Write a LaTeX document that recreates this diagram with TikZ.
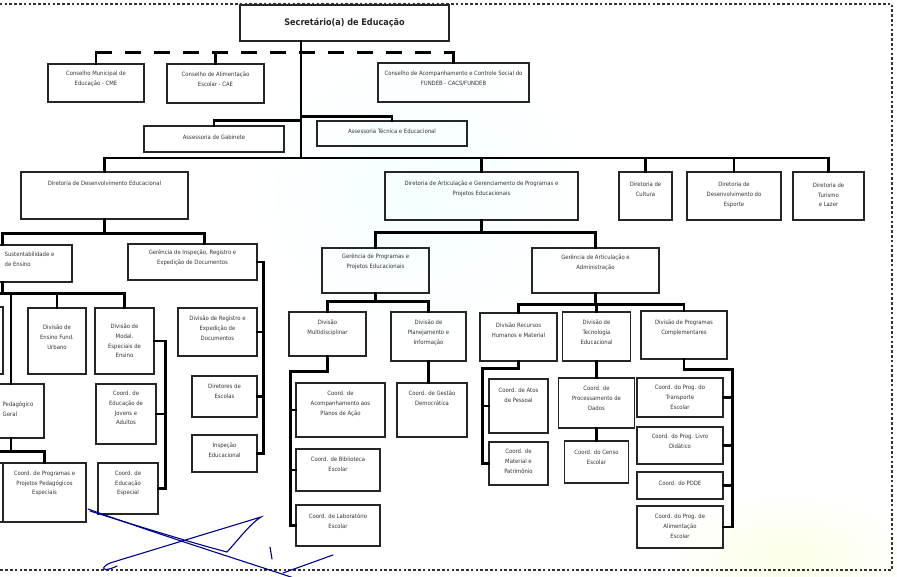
\documentclass[tikz,border=0pt]{standalone}
\usepackage{fontspec}
\setmainfont{DejaVu Sans Condensed}
\usepackage{tikz}
\usetikzlibrary{calc}

\begin{document}
\begin{tikzpicture}[x=1pt,y=-1pt,
box/.style 2 args={draw=black!85,line width=1.1pt,rectangle,minimum width=#1pt,minimum height=#2pt,inner sep=0pt},
txt/.style={font=\fontsize{5.9}{9.8}\selectfont,align=center,inner sep=0pt,text=black!80,yshift=4pt},
cut/.style={txt,align=left},
title/.style={font=\fontsize{9}{11}\selectfont\bfseries,inner sep=0pt,text=black!85},
link/.style={line width=2.6pt,line cap=rect},
dashlink/.style={line width=2.6pt,dash pattern=on 16pt off 13pt},
border/.style={line width=2.6pt,dash pattern=on 2.6pt off 2.2pt,black!80},
sign/.style={draw=blue!55!black,line width=1.1pt,line cap=round}]
\useasboundingbox (0,0) rectangle (897,577);
\clip (0,0) rectangle (897,577);

% fundo
\shade[inner color=cyan!4,outer color=white] (420,190) ellipse (170 and 150);
\shade[inner color=green!14!yellow!10,outer color=white] (790,560) ellipse (130 and 70);
\draw[border] (-5,4) -- (892,4) -- (892,570) -- (-5,570);

% secretaria, conselhos e assessorias
\node[box={209}{36},label={[title]center:{Secretário(a) de Educação}}] (sec) at (344.5,23) {};
\node[box={96}{38},label={[txt]center:{Conselho Municipal de\\Educação - CME}}] (cme) at (96,83) {};
\node[box={97}{39},label={[txt]center:{Conselho de Alimentação\\Escolar - CAE}}] (cae) at (215.5,83.5) {};
\node[box={151}{39},label={[txt]center:{Conselho de Acompanhamento e Controle Social do\\FUNDEB - CACS/FUNDEB}}] (cacs) at (453.5,82.5) {};
\node[box={140}{26},label={[txt,yshift=-2pt]center:{Assessoria de Gabinete}}] (ag) at (214,139) {};
\node[box={150}{25},label={[txt,yshift=-2pt]center:{Assessoria Técnica e Educacional}}] (ate) at (392,133.5) {};

% diretorias
\node[box={167}{47},label={[txt,yshift=8pt]center:{Diretoria de Desenvolvimento Educacional}}] (dde) at (104.5,195.5) {};
\node[box={193}{48},label={[txt,yshift=3pt]center:{Diretoria de Articulação e Gerenciamento de Programas e\\Projetos Educacionais}}] (dda) at (481.5,196) {};
\node[box={53}{48},label={[txt,yshift=3pt]center:{Diretoria de\\Cultura}}] (dcu) at (645.5,196) {};
\node[box={94}{48},label={[txt,yshift=-3pt]center:{Diretoria de\\Desenvolvimento do\\Esporte}}] (des) at (734,196) {};
\node[box={71}{48},label={[txt,yshift=-3pt]center:{Diretoria de\\Turismo\\e Lazer}}] (dtl) at (828.5,196) {};

% desenvolvimento educacional
\node[box={139}{37},label={[cut,xshift=27pt]center:{Sustentabilidade e\\de Ensino}}] (gse) at (2.5,263.5) {};
\node[box={129}{36},label={[txt]center:{Gerência de Inspeção, Registro e\\Expedição de Documentos}}] (gir) at (192.5,262) {};
\node[box={58}{67}] (dx1) at (-26,340.5) {};
\node[box={58}{66},label={[txt]center:{Divisão de\\Ensino Fund.\\Urbano}}] (def) at (57,341) {};
\node[box={59}{66},label={[txt,yshift=-4pt]center:{Divisão de\\Modal.\\Especiais de\\Ensino}}] (dmod) at (124.5,341) {};
\node[box={66}{54},label={[cut,xshift=7pt,yshift=-2pt]center:{Pedagógico\\Geral}}] (cpg) at (11,411) {};
\node[box={60}{60},label={[txt,yshift=2pt]center:{Coord. de\\Educação de\\Jovens e\\Adultos}}] (cja) at (126,414) {};
\node[box={53}{59}] (dx2) at (-23.5,492.5) {};
\node[box={83}{59},label={[txt,yshift=5pt]center:{Coord. de Programas e\\Projetos Pedagógicos\\Especiais}}] (cppe) at (44.5,492.5) {};
\node[box={60}{51},label={[txt,yshift=1pt]center:{Coord. de\\Educação\\Especial}}] (cee) at (128,488.5) {};
\node[box={79}{48},label={[txt]center:{Divisão de Registro e\\Expedição de\\Documentos}}] (dre) at (217.5,332) {};
\node[box={65}{41},label={[txt,yshift=1pt]center:{Diretores de\\Escolas}}] (dir) at (224.5,396.5) {};
\node[box={65}{37},label={[txt,yshift=-1pt]center:{Inspeção\\Educacional}}] (iedu) at (224.5,453.5) {};

% articulacao e gerenciamento
\node[box={107}{45},label={[txt,yshift=5pt]center:{Gerência de Programas e\\Projetos Educacionais}}] (gpp) at (375.5,270.5) {};
\node[box={127}{45},label={[txt,yshift=4pt]center:{Gerência de Articulação e\\Administração}}] (gaa) at (595.5,270.5) {};
\node[box={77}{44},label={[txt,yshift=2pt]center:{Divisão\\Multidisciplinar}}] (dmu) at (327.5,334) {};
\node[box={75}{49},label={[txt]center:{Divisão de\\Planejamento e\\Informação}}] (dpi) at (428.5,336.5) {};
\node[box={89}{54},label={[txt,yshift=2pt]center:{Coord. de\\Acompanhamento aos\\Planos de Ação}}] (cap) at (340.5,410) {};
\node[box={84}{42},label={[txt,yshift=2pt]center:{Coord. de Biblioteca\\Escolar}}] (cbe) at (338,470) {};
\node[box={84}{41},label={[txt]center:{Coord. de Laboratório\\Escolar}}] (cle) at (338,525.5) {};
\node[box={70}{54},label={[txt,yshift=8pt]center:{Coord. de Gestão\\Democrática}}] (cgd) at (432,410) {};
\node[box={77}{48},label={[txt,yshift=3pt]center:{Divisão Recursos\\Humanos e Material}}] (drh) at (518.5,337) {};
\node[box={68}{49},label={[txt]center:{Divisão de\\Tecnologia\\Educacional}}] (dte) at (596.5,336.5) {};
\node[box={86}{48},label={[txt,yshift=3pt]center:{Divisão de Programas\\Complementares}}] (dpc) at (684,335) {};
\node[box={59}{54},label={[txt,yshift=7pt]center:{Coord. de Atos\\de Pessoal}}] (cat) at (518.5,406) {};
\node[box={59}{43},label={[txt,yshift=-2pt]center:{Coord. de\\Material e\\Patrimônio}}] (cmp) at (518.5,463.5) {};
\node[box={76}{50},label={[txt,yshift=1pt]center:{Coord. de\\Processamento de\\Dados}}] (cpd) at (596.5,403) {};
\node[box={64}{42},label={[txt,yshift=1pt]center:{Coord. do Censo\\Escolar}}] (cce) at (596.5,462) {};
\node[box={86}{39},label={[txt,yshift=-4pt]center:{Coord. do Prog. do\\Transporte\\Escolar}}] (cpt) at (680,397.5) {};
\node[box={86}{37},label={[txt]center:{Coord. do Prog. Livro\\Didático}}] (cpl) at (680,445.5) {};
\node[box={86}{27},label={[txt,yshift=-2pt]center:{Coord. do PDDE}}] (cpdd) at (680,485.5) {};
\node[box={86}{42},label={[txt,yshift=-3pt]center:{Coord. do Prog. de\\Alimentação\\Escolar}}] (cpa) at (680,527) {};

% ligacoes
\coordinate (trunk) at (301,158);
\draw[link] (sec.south -| trunk) -- (trunk);
\draw[link] (cme.north) -- ++(0,-11) coordinate (d1);
\draw[link] (cae.north) -- ++(0,-11);
\draw[link] (cacs.north) -- ++(0,-10);
\draw[dashlink] (d1) -- (d1 -| cacs.north);
\draw[link] (ag.north) |- (ate.north -| trunk);
\draw[link] (ate.north) -- ++(0,-4) coordinate (ta) -- (ta -| trunk);
\draw[link] (dde.north) |- (trunk) -| (dtl.north);
\foreach \n in {dda,dcu,des}
  \draw[link] (\n.north) -- (\n.north |- trunk);

\draw[link] (dde.south) -- ++(0,14) coordinate (b2);
\draw[link] (gse.north) |- (b2) -| ([xshift=12pt]gir.north);
\draw[link] (gse.south) -- ++(0,11) coordinate (b3);
\draw[link] (dx1.north) |- (b3) -| (dmod.north);
\draw[link] (def.north) -- (def.north |- b3);
\draw[link] (cpg.north) -- (cpg.north |- b3);
\draw[link] (cpg.south) -- ++(0,13) coordinate (b4);
\draw[link] (dx2.north) |- (b4) -| (cppe.north);
\draw[link] (dmod.east) -- ++(11,0) coordinate (r1) |- (cee.east);
\draw[link] (cja.east) -- (cja.east -| r1);
\draw[link] (gir.east) -- ++(6,0) coordinate (r2) |- (iedu.east);
\draw[link] (dre.east) -- (dre.east -| r2);
\draw[link] (dir.east) -- (dir.east -| r2);

\draw[link] (dda.south) -- ++(0,12) coordinate (b5);
\draw[link] (gpp.north) |- (b5) -| (gaa.north);
\draw[link] (gpp.south) -- ++(0,8) coordinate (b6);
\draw[link] (dmu.north) |- (b6) -| (dpi.north);
\draw[link] (dmu.south) -- ++(0,15) -| ([xshift=-5pt]cle.west) -- (cle.west);
\draw[link] (cap.west) -- ++(-5,0);
\draw[link] (cbe.west) -- ++(-5,0);
\draw[link] (dpi.south) -- (dpi.south |- cgd.north);
\draw[link] (gaa.south) -- ++(0,11) coordinate (b8);
\draw[link] (drh.north) |- (b8) -| (dpc.north);
\draw[link] (dte.north) -- (dte.north |- b8);
\draw[link] (drh.south) -- ++(0,7) -| ([xshift=-6pt]cmp.west) -- (cmp.west);
\draw[link] (cat.west) -- ++(-6,0);
\draw[link] (dte.south) -- (cpd.north);
\draw[link] (cpd.south) -- (cce.north);
\draw[link] (dpc.south) -- ++(0,10) -| ([xshift=9pt]cpa.east) -- (cpa.east);
\foreach \n in {cpt,cpl,cpdd}
  \draw[link] (\n.east) -- ++(9,0);

% rubrica
\draw[sign] (90,511) .. controls (150,530) and (200,545) .. (227,552) .. controls (238,540) and (250,524) .. (261,517) -- (110,563) .. controls (99,568) and (103,573) .. (117,566);
\draw[sign] (88,509) .. controls (160,535) and (240,560) .. (300,580);
\draw[sign] (270,547) -- (272,559);
\draw[sign] (283,573) -- (333,555);
\end{tikzpicture}
\end{document}
